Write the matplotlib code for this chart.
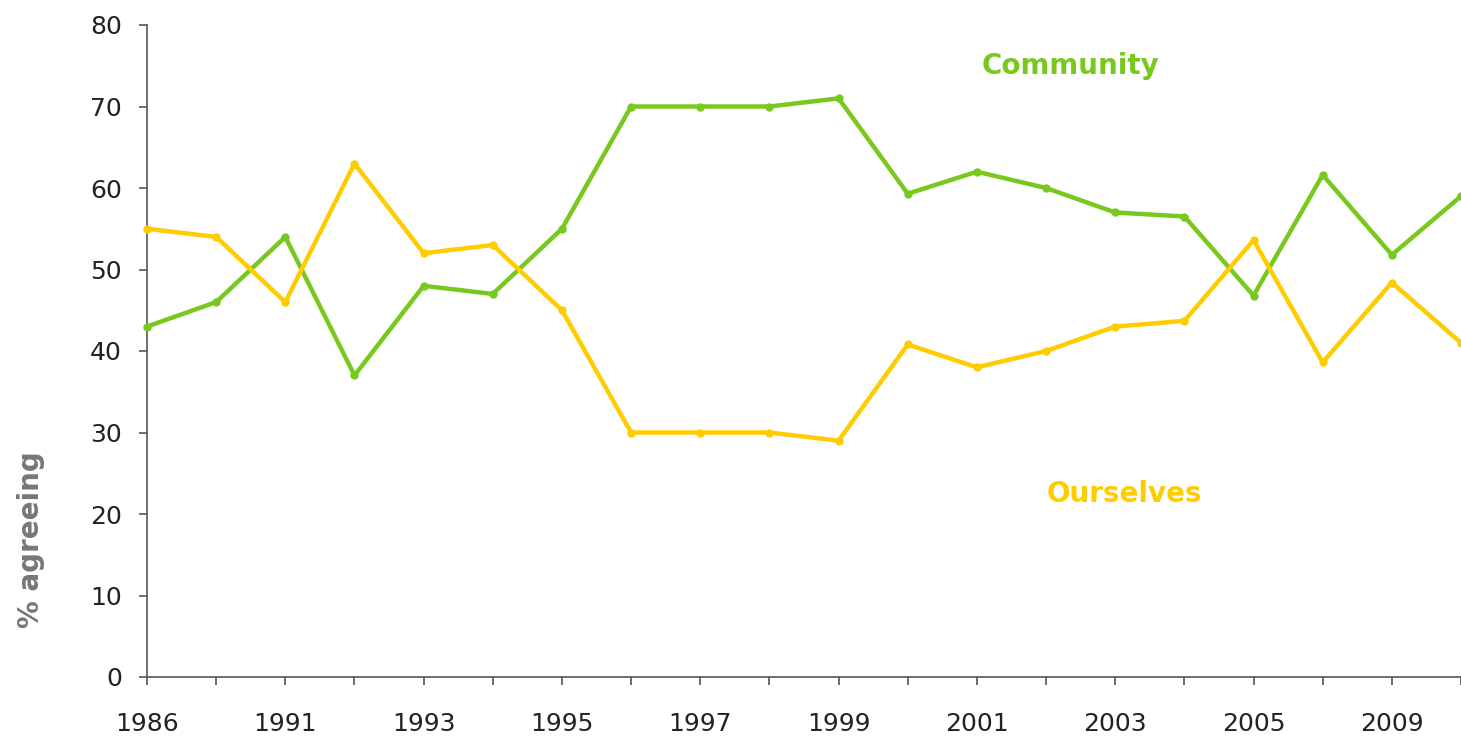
import numpy as np
import matplotlib.pyplot as plt

# Data ------------------------------------------------------------
years = ['1986', '1989', '1991', '1992', '1993', '1994', '1995', '1996', '1997', '1998',
         '1999', '2000', '2001', '2002', '2003', '2004', '2005', '2007', '2009', '2010']
community = [43, 46, 54, 37, 48, 47, 55, 70, 70, 70,
             71, 59.3, 62, 60, 57, 56.5, 46.8, 61.6, 51.8, 59]
ourselves = [55, 54, 46, 63, 52, 53, 45, 30, 30, 30,
             29, 40.8, 38, 40, 43, 43.7, 53.6, 38.6, 48.4, 41]

green = '#78c81e'
yellow = '#ffcc00'

# Figure ----------------------------------------------------------
fig = plt.figure(figsize=(14.61, 7.41), dpi=100)
ax = fig.add_axes([147/1461, 64/741, 1 - 147/1461, 652/741])

x = np.arange(len(years))
ax.plot(x, community, color=green, lw=3.2, marker='o', ms=5, clip_on=False, zorder=3)
ax.plot(x, ourselves, color=yellow, lw=3.2, marker='o', ms=5, clip_on=False, zorder=3)

ax.set_xlim(0, 18.92)
ax.set_ylim(0, 80)
ax.set_yticks(range(0, 81, 10))
ax.set_xticks(x)
ax.set_xticklabels([y if i % 2 == 0 else '' for i, y in enumerate(years)])

for s in ['top', 'right']:
    ax.spines[s].set_visible(False)
for s in ['left', 'bottom']:
    ax.spines[s].set_color('#555555')
    ax.spines[s].set_linewidth(1.2)

ax.tick_params(axis='both', colors='#555555', length=6, width=1.2, labelsize=18,
               labelcolor='#222222')
ax.tick_params(axis='y', pad=12)
ax.tick_params(axis='x', pad=19)

# y label sits low on the axis in the original
ax.set_ylabel('% agreeing', fontsize=20, fontweight='bold', color='#777777')
ax.yaxis.set_label_coords(-0.0776, 0.21)

# Series labels ---------------------------------------------------
ax.text(13.36, 75, 'Community', color=green, fontsize=20, fontweight='bold', ha='center', va='center')
ax.text(14.13, 22.5, 'Ourselves', color=yellow, fontsize=20, fontweight='bold', ha='center', va='center')

fig.savefig('out.png', dpi=100)
